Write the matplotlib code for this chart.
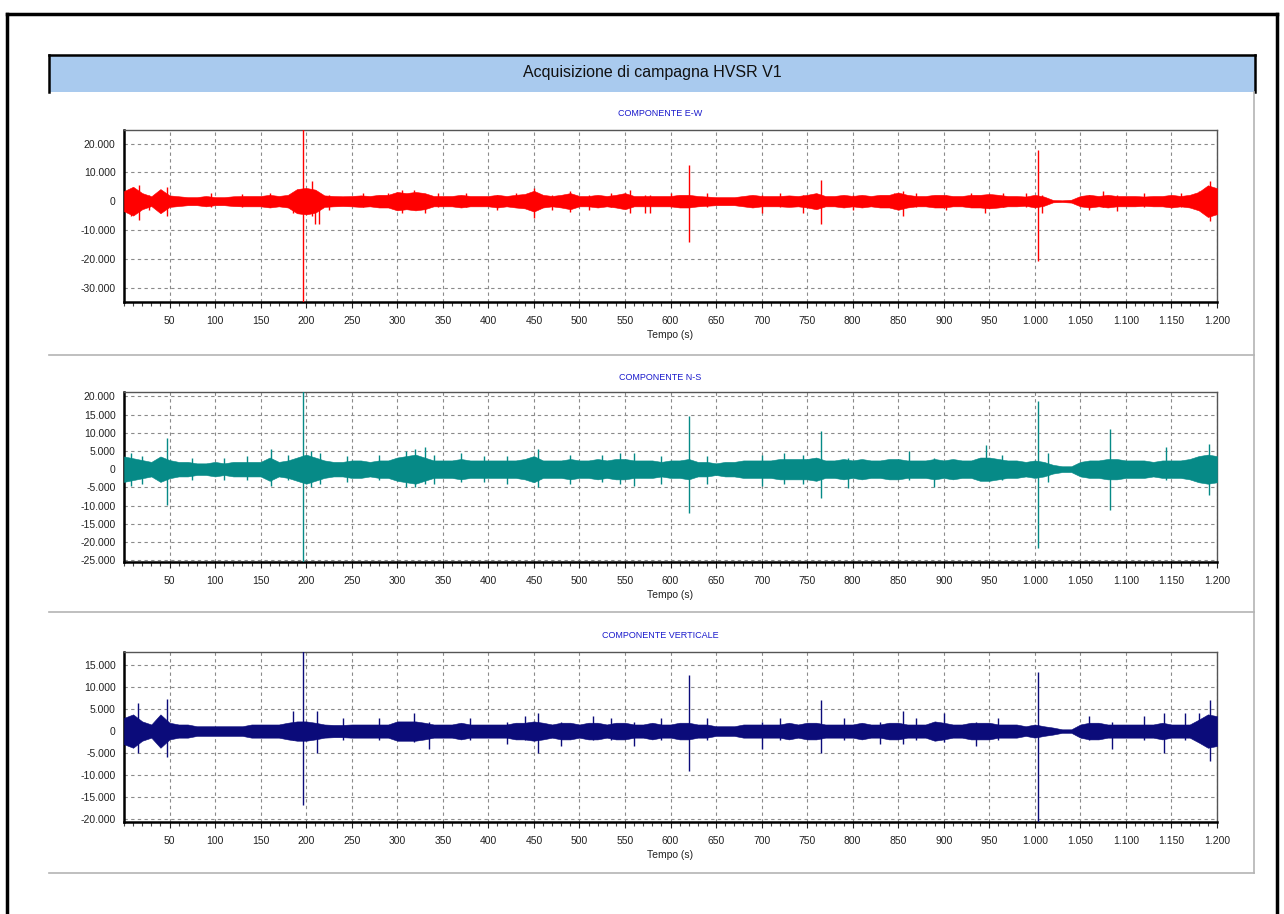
import numpy as np
import matplotlib
matplotlib.use("Agg")
import matplotlib.pyplot as plt
from matplotlib.lines import Line2D
from matplotlib.patches import Rectangle
from matplotlib.ticker import FuncFormatter, MultipleLocator

plt.rcParams['font.family'] = ['Liberation Sans Narrow', 'Liberation Sans', 'DejaVu Sans']

W, H = 1284, 914

title = "Acquisizione di campagna HVSR V1"
components = ["COMPONENTE E-W", "COMPONENTE N-S", "COMPONENTE VERTICALE"]
xlabel = "Tempo (s)"

# envelope amplitude (thousands of counts) sampled every 10 s, 0..1200 s
time_s = np.arange(0, 1201, 10)

amp_ew = [3.5, 5.0, 2.8, 1.7, 4.2, 2.0, 1.7, 1.4, 1.4, 1.8,
          1.4, 1.4, 1.7, 1.8, 1.8, 1.8, 2.2, 1.8, 2.2, 4.2,
          4.6, 4.0, 2.0, 1.8, 1.7, 1.8, 2.0, 1.8, 2.2, 2.2,
          3.2, 2.8, 3.2, 2.8, 1.8, 1.8, 1.8, 2.2, 1.8, 1.8,
          1.8, 2.2, 1.8, 2.2, 2.5, 3.6, 2.2, 1.8, 2.2, 2.8,
          1.8, 1.8, 2.2, 1.8, 2.2, 2.8, 1.8, 1.8, 1.8, 1.8,
          1.8, 2.2, 2.2, 1.8, 1.6, 1.4, 1.4, 1.4, 1.8, 2.2,
          1.8, 1.8, 1.8, 2.0, 1.8, 2.2, 2.8, 1.8, 1.8, 2.2,
          1.8, 2.2, 1.8, 2.2, 2.2, 3.0, 2.2, 1.8, 1.8, 2.2,
          2.2, 1.8, 1.8, 2.2, 2.2, 2.5, 2.2, 1.8, 1.8, 1.6,
          2.2, 1.6, 0.4, 0.3, 0.5, 1.8, 2.2, 1.8, 2.2, 1.8,
          1.8, 1.8, 1.6, 1.8, 1.8, 2.2, 1.8, 2.2, 3.2, 5.5, 4.5]

amp_ns = [3.5, 3.0, 2.5, 2.0, 3.5, 2.5, 2.0, 2.0, 1.6, 1.6,
          2.0, 1.6, 2.0, 2.0, 2.0, 2.0, 3.2, 2.0, 2.4, 3.2,
          4.0, 3.2, 2.4, 2.0, 2.0, 2.4, 2.4, 2.0, 2.4, 2.4,
          3.2, 3.6, 4.0, 3.2, 2.4, 2.4, 2.4, 2.8, 2.4, 2.4,
          2.4, 2.4, 2.4, 2.4, 2.8, 3.6, 2.4, 2.4, 2.4, 2.8,
          2.4, 2.4, 2.8, 2.4, 2.8, 2.8, 2.4, 2.4, 2.4, 2.0,
          2.4, 2.4, 2.8, 2.0, 2.0, 1.6, 2.0, 2.0, 2.4, 2.4,
          2.4, 2.4, 2.8, 2.8, 2.8, 2.8, 3.2, 2.4, 2.4, 2.8,
          2.4, 2.8, 2.4, 2.4, 2.8, 2.8, 2.4, 2.4, 2.4, 2.8,
          2.4, 2.8, 2.4, 2.4, 3.2, 3.2, 2.8, 2.4, 2.4, 2.0,
          2.4, 2.0, 1.2, 0.8, 0.8, 2.0, 2.4, 2.4, 2.8, 2.8,
          2.4, 2.4, 2.4, 2.0, 2.4, 2.4, 2.4, 2.8, 3.6, 4.0, 3.6]

amp_v = [3.0, 3.8, 2.2, 1.5, 3.8, 1.9, 1.5, 1.5, 1.1, 1.1,
         1.1, 1.1, 1.1, 1.1, 1.5, 1.5, 1.5, 1.5, 1.9, 2.2,
         2.2, 1.9, 1.5, 1.4, 1.4, 1.5, 1.5, 1.5, 1.5, 1.5,
         2.2, 2.2, 2.2, 1.9, 1.5, 1.5, 1.5, 1.9, 1.5, 1.5,
         1.5, 1.5, 1.5, 1.9, 1.9, 2.2, 1.9, 1.5, 1.9, 1.9,
         1.5, 1.9, 1.9, 1.5, 1.9, 1.9, 1.5, 1.5, 1.9, 1.5,
         1.5, 1.9, 1.9, 1.5, 1.5, 1.1, 1.1, 1.1, 1.5, 1.5,
         1.5, 1.5, 1.5, 1.9, 1.5, 1.9, 1.9, 1.5, 1.5, 1.5,
         1.5, 1.9, 1.5, 1.5, 1.9, 1.9, 1.5, 1.5, 1.5, 2.2,
         1.9, 1.5, 1.5, 1.9, 1.9, 1.9, 1.5, 1.5, 1.5, 1.1,
         1.5, 1.1, 0.8, 0.4, 0.4, 1.5, 1.9, 1.9, 1.5, 1.5,
         1.5, 1.5, 1.5, 1.5, 1.9, 1.5, 1.5, 1.5, 2.6, 3.8, 3.4]

# transients: time (s), peak up, peak down (thousands of counts)
spk_ew_t = [8, 17, 27, 47, 95, 130, 160, 185, 196, 206, 210, 214, 225, 262,
            290, 305, 318, 330, 345, 375, 410, 430, 450, 470, 490, 510, 535,
            555, 572, 578, 600, 620, 640, 700, 720, 745, 765, 800, 845, 855,
            870, 902, 930, 945, 965, 990, 1003, 1008, 1060, 1075, 1090, 1120,
            1160, 1180, 1192]
spk_ew_hi = [4.0, 5.5, 2.0, 5.0, 3.0, 2.5, 3.0, 3.0, 26.0, 7.0, 2.0, 2.0, 2.0, 3.0,
             3.0, 4.0, 4.0, 2.0, 3.0, 3.0, 2.0, 3.0, 4.5, 2.0, 3.5, 2.0, 3.0,
             4.0, 2.0, 2.0, 3.0, 12.7, 3.0, 2.0, 3.0, 2.0, 7.2, 2.0, 3.0, 3.5,
             3.0, 2.0, 3.0, 2.0, 3.0, 3.0, 17.8, 2.0, 2.0, 3.5, 2.0, 3.0,
             3.0, 3.5, 7.0]
spk_ew_lo = [-5.0, -6.5, -3.0, -5.2, -2.0, -2.0, -2.0, -4.0, -36.0, -5.0, -8.0, -8.0, -3.0, -2.0,
             -2.0, -4.0, -2.5, -4.0, -2.0, -2.0, -3.0, -2.0, -6.0, -3.0, -3.8, -3.0, -2.0,
             -4.0, -4.0, -4.0, -2.0, -14.3, -2.0, -4.0, -2.0, -4.0, -8.0, -3.0, -2.0, -5.0,
             -2.0, -3.0, -2.0, -4.0, -2.0, -2.0, -20.7, -4.0, -3.0, -2.0, -3.5, -2.0,
             -2.0, -3.0, -7.0]

spk_ns_t = [8, 20, 47, 75, 110, 135, 161, 180, 196, 205, 215, 245, 280, 310,
            320, 330, 340, 370, 395, 420, 455, 490, 525, 545, 560, 590, 620,
            640, 700, 725, 745, 765, 795, 862, 889, 946, 964, 1003, 1015, 1083,
            1144, 1191]
spk_ns_hi = [4.5, 3.5, 8.7, 3.0, 3.0, 3.5, 5.5, 4.0, 22.0, 5.0, 4.5, 3.5, 4.0, 5.0,
             5.5, 6.0, 4.0, 4.5, 3.5, 3.5, 5.5, 4.0, 4.0, 4.5, 4.5, 3.5, 14.5,
             3.5, 4.0, 4.5, 4.0, 10.5, 3.0, 4.9, 3.0, 6.6, 3.8, 18.8, 4.5, 11.0,
             6.0, 7.0]
spk_ns_lo = [-4.5, -4.0, -9.8, -3.0, -3.0, -3.0, -4.5, -3.0, -26.0, -5.0, -4.0, -3.5, -3.0, -5.0,
             -5.0, -4.0, -4.0, -3.5, -3.5, -4.0, -5.0, -4.0, -3.5, -4.0, -4.5, -4.0, -12.0,
             -4.0, -4.5, -4.0, -4.0, -8.0, -5.3, -3.0, -5.0, -3.0, -3.0, -21.7, -3.5, -11.3,
             -3.0, -7.0]

spk_v_t = [15, 47, 185, 196, 212, 240, 280, 318, 335, 380, 420, 440, 455,
           480, 515, 535, 560, 590, 620, 640, 700, 720, 765, 790, 830, 855,
           870, 900, 935, 960, 1003, 1060, 1085, 1120, 1142, 1165, 1180, 1192]
spk_v_hi = [6.4, 7.2, 4.5, 19.0, 4.5, 3.0, 3.0, 4.0, 2.0, 3.0, 2.0, 3.5, 4.0,
            2.0, 3.5, 3.0, 2.0, 3.0, 12.7, 3.0, 2.0, 3.0, 7.0, 3.0, 2.0, 4.5,
            3.0, 4.0, 2.0, 3.0, 13.5, 3.5, 2.0, 3.5, 4.0, 4.0, 4.0, 7.0]
spk_v_lo = [-5.0, -6.0, -2.0, -16.8, -5.0, -2.0, -2.0, -2.5, -4.0, -2.0, -3.0, -2.0, -5.0,
            -3.5, -2.0, -2.0, -3.5, -2.0, -9.0, -2.0, -4.0, -2.0, -5.0, -2.0, -3.0, -3.0,
            -2.0, -2.5, -3.5, -2.0, -21.0, -2.0, -4.0, -2.0, -5.0, -2.0, -2.5, -6.7]

panels = [
    dict(amp=amp_ew, st=spk_ew_t, sh=spk_ew_hi, sl=spk_ew_lo, color='#ff0000',
         ylim=(-35000, 24700), yticks=[-30000, -20000, -10000, 0, 10000, 20000],
         box=(124, 130, 1217, 302), sub_y=114),
    dict(amp=amp_ns, st=spk_ns_t, sh=spk_ns_hi, sl=spk_ns_lo, color='#068a87',
         ylim=(-25500, 21200), yticks=list(range(-25000, 20001, 5000)),
         box=(124, 392, 1217, 562), sub_y=378),
    dict(amp=amp_v, st=spk_v_t, sh=spk_v_hi, sl=spk_v_lo, color='#0b0b7a',
         ylim=(-20700, 18000), yticks=list(range(-20000, 15001, 5000)),
         box=(124, 652, 1217, 822), sub_y=635),
]


def fx(x):
    return x / W


def fy(y):
    return 1 - y / H


def thousands(v, pos=None):
    return f"{int(round(v)):,}".replace(',', '.')


fig = plt.figure(figsize=(W / 100, H / 100), dpi=100)
fig.patch.set_facecolor('white')

# outer frame
for xs, ys in [([7, 7], [14, 914]), ([7, 1277], [14, 14]), ([1277, 1277], [14, 914])]:
    fig.add_artist(Line2D([fx(x) for x in xs], [fy(y) for y in ys],
                          transform=fig.transFigure, color='black', lw=2.5))

# title bar
fig.add_artist(Rectangle((fx(49), fy(92)), fx(1255) - fx(49), fy(55) - fy(92),
                         transform=fig.transFigure, facecolor='#a9caee',
                         edgecolor='none'))
for xs, ys in [([49, 49], [55, 92]), ([49, 1255], [55, 55]), ([1255, 1255], [55, 92])]:
    fig.add_artist(Line2D([fx(x) for x in xs], [fy(y) for y in ys],
                          transform=fig.transFigure, color='black', lw=1.8))
fig.text(fx(652), fy(72), title, ha='center', va='center', fontsize=11.5,
         family=['Liberation Sans', 'DejaVu Sans'], color='#111111')

# grey panel frame
grey = '#b4b4b4'
fig.add_artist(Line2D([fx(1254), fx(1254)], [fy(92), fy(873)],
                      transform=fig.transFigure, color=grey, lw=1.2))
for y in (355, 612, 873):
    fig.add_artist(Line2D([fx(49), fx(1254)], [fy(y), fy(y)],
                          transform=fig.transFigure, color=grey, lw=1.2))

for name, p in zip(components, panels):
    x0, y0, x1, y1 = p['box']
    ax = fig.add_axes([fx(x0), fy(y1), fx(x1) - fx(x0), fy(y0) - fy(y1)])
    amp = np.array(p['amp']) * 1000
    ax.fill_between(time_s, -amp, amp, color=p['color'], lw=0.4, zorder=3)
    ax.vlines(p['st'], np.array(p['sl']) * 1000, np.array(p['sh']) * 1000,
              color=p['color'], lw=1.0, zorder=3)

    ax.set_xlim(0, 1200)
    ax.set_ylim(*p['ylim'])
    ax.set_xticks(np.arange(50, 1201, 50))
    ax.xaxis.set_minor_locator(MultipleLocator(10))
    ax.set_yticks(p['yticks'])
    ax.xaxis.set_major_formatter(FuncFormatter(thousands))
    ax.yaxis.set_major_formatter(FuncFormatter(thousands))
    ax.tick_params(axis='x', which='major', length=4, width=0.8, labelsize=7.5,
                   colors='#222222', pad=6)
    ax.tick_params(axis='x', which='minor', length=3, width=0.8, color='#444444')
    ax.tick_params(axis='y', length=0, labelsize=7.5, colors='#222222', pad=6)
    ax.grid(True, which='major', color='#8a8a8a', lw=0.8, ls=(0, (3, 3)), zorder=1)

    for side in ('left', 'bottom'):
        ax.spines[side].set_linewidth(1.8)
        ax.spines[side].set_color('black')
    for side in ('top', 'right'):
        ax.spines[side].set_linewidth(1.0)
        ax.spines[side].set_color('#555555')

    ax.set_xlabel(xlabel, fontsize=7.5, color='#222222', labelpad=3)
    fig.text(fx(660), fy(p['sub_y']), name, ha='center', va='center',
             fontsize=6.5, color='#1a1acc')

fig.savefig('out.png', dpi=100)
